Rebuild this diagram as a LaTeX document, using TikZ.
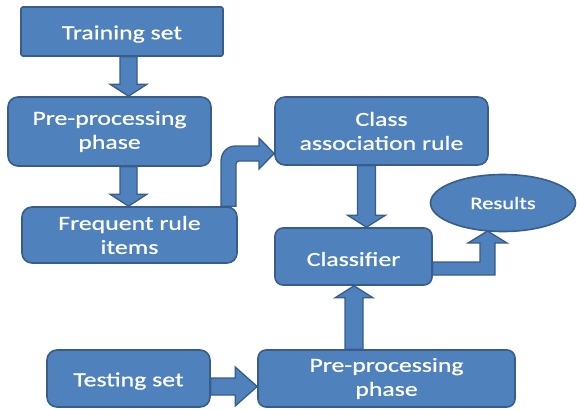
\documentclass[tikz,border=0pt]{standalone}
\usepackage{fontspec}
\setmainfont{Carlito}[FakeStretch=1.29,FakeBold=0.7]
\usetikzlibrary{calc,shapes.geometric,backgrounds}
\definecolor{blu}{HTML}{4F81BD}
\definecolor{bord}{HTML}{385D8A}
\tikzset{
  base/.style={draw=bord, fill=blu, line width=1.6pt, text=white, align=center,
    inner sep=0pt, font=\fontsize{20}{24}\selectfont, rounded corners=10pt},
  box/.style={base, execute at begin node={\rule{0pt}{19pt}}},
  arr/.style={draw=bord, fill=blu, line width=1.3pt, line join=miter},
  aw/.store in=\aw, hw/.store in=\hw, hl/.store in=\hl,
  aw=8.5, hw=18.5, hl=12,
  varrow/.style={arr, to path={
    let \p1=(\tikztostart), \p2=(\tikztotarget),
        \n2={\y2+sign(\y1-\y2)*\hl pt} in
    (\x1-\aw pt,\y1) -- (\x1-\aw pt,\n2) -- (\x1-\hw pt,\n2) -- (\x1,\y2)
    -- (\x1+\hw pt,\n2) -- (\x1+\aw pt,\n2) -- (\x1+\aw pt,\y1) -- cycle}},
  harrow/.style={arr, to path={
    let \p1=(\tikztostart), \p2=(\tikztotarget),
        \n2={\x2+sign(\x1-\x2)*\hl pt} in
    (\x1,\y1-\aw pt) -- (\n2,\y1-\aw pt) -- (\n2,\y1-\hw pt) -- (\x2,\y1)
    -- (\n2,\y1+\hw pt) -- (\n2,\y1+\aw pt) -- (\x1,\y1+\aw pt) -- cycle}}
}
\begin{document}
\begin{tikzpicture}[x=1pt,y=-1pt]
\useasboundingbox (0,0) rectangle (577,409);
% nodes
\node[box, rounded corners=2pt, minimum width=202pt, minimum height=49pt] (tr) at (122,31.5) {Training set};
\node[box, minimum width=203pt, minimum height=69pt] (pp1) at (109.5,131.5) {Pre-processing\\phase};
\node[box, minimum width=215pt, minimum height=56pt] (fri) at (129.5,235) {Frequent rule\\items};
\node[box, minimum width=213pt, minimum height=68pt] (car) at (381.5,131) {Class\\association rule};
\node[box, rounded corners=8pt, minimum width=157pt, minimum height=57pt] (cls) at (353.5,256.5) {Classifier};
\node[base, ellipse, font=\fontsize{17.5}{20}\selectfont,
  minimum width=145pt, minimum height=57pt] (res) at (503,203) {Results};
\node[box, minimum width=163pt, minimum height=57pt] (ts) at (128.5,378.5) {Testing set};
\node[box, rounded corners=8pt, minimum width=257pt, minimum height=57pt] (pp2) at (386.5,378.5) {Pre-processing\\phase};
% arrow axes
\coordinate (a1) at (128.5,0);
\coordinate (a4) at (366.5,0);
\coordinate (a6) at (354,0);
\coordinate (a7) at (0,386.5);
\coordinate (v3) at (221,0);
\coordinate (w3) at (236,0);
\coordinate (h5a) at (0,262);
\coordinate (h5b) at (0,275);
\coordinate (t3) at (0,153.5);
\begin{scope}[on background layer]
\draw[varrow] (tr.south -| a1) to (pp1.north -| a1);
\draw[varrow] (pp1.south -| a1) to (fri.north -| a1);
\draw[varrow, aw=9, hw=19] (car.south -| a4) to (cls.north -| a4);
\draw[varrow, aw=9, hw=19] (pp2.north -| a6) to (cls.south -| a6);
\draw[harrow, hw=19.5, hl=22] (ts.east |- a7) to (pp2.west |- a7);
% bent arrow: frequent rule items -> class association rule
\draw[arr] (fri.north -| v3) -- (221,161)
  .. controls (221,152.7) and (227.3,146) .. (235,146)
  -- (259,146) -- (259,138) -- (car.west |- t3) -- (259,169) -- (259,161)
  -- (239,161) .. controls (237.3,161) and (236,162.3) .. (236,164)
  -- (fri.north -| w3) -- cycle;
% bent arrow: classifier -> results
\draw[arr] (cls.east |- h5a) -- (480,262) -- (480,243) -- (468,243)
  -- (487.5,231) -- (507,243) -- (495,243) -- (495,275) -- (cls.east |- h5b) -- cycle;
\end{scope}
\end{tikzpicture}
\end{document}
